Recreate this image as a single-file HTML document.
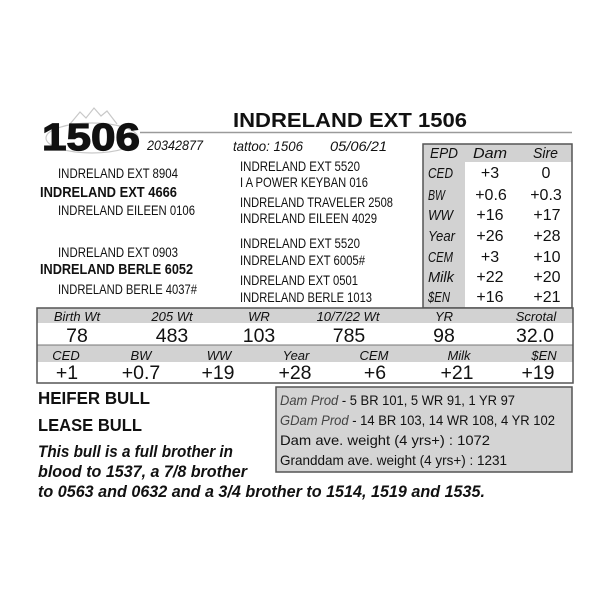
<!DOCTYPE html>
<html><head><meta charset="utf-8"><style>
html,body{margin:0;padding:0;background:#fff;}
svg{display:block;}
text{font-family:"Liberation Sans",sans-serif;fill:#111;}
</style></head><body>
<svg width="600" height="600" viewBox="0 0 600 600" xmlns="http://www.w3.org/2000/svg">
<rect width="600" height="600" fill="#fff"/>
<!-- logo -->
<g fill="none" stroke="#c8c8c8" stroke-width="1.2">
<polyline points="70,124 80,112 86,118 94,108 101,116 107,111 117,124"/>
<ellipse cx="92" cy="138" rx="46" ry="15"/>
</g>
<!-- header -->
<text x="42" y="150" font-size="38" font-weight="bold" stroke="#111" stroke-width="1.2" textLength="98" lengthAdjust="spacingAndGlyphs">1506</text>
<text x="147" y="150" font-size="14" font-style="italic" textLength="56" lengthAdjust="spacingAndGlyphs">20342877</text>
<text x="233" y="127" font-size="20" font-weight="bold" textLength="234" lengthAdjust="spacingAndGlyphs">INDRELAND EXT 1506</text>
<line x1="140" y1="132.5" x2="572" y2="132.5" stroke="#9a9a9a" stroke-width="1.5"/>
<text x="233" y="151" font-size="14" font-style="italic" textLength="70" lengthAdjust="spacingAndGlyphs">tattoo: 1506</text>
<text x="330" y="151" font-size="14" font-style="italic" textLength="57" lengthAdjust="spacingAndGlyphs">05/06/21</text>

<!-- pedigree left -->
<g font-size="14">
<text x="58" y="178" textLength="120" lengthAdjust="spacingAndGlyphs">INDRELAND EXT 8904</text>
<text x="40" y="197" font-weight="bold" font-size="15" textLength="137" lengthAdjust="spacingAndGlyphs">INDRELAND EXT 4666</text>
<text x="58" y="215" textLength="137" lengthAdjust="spacingAndGlyphs">INDRELAND EILEEN 0106</text>
<text x="58" y="257" textLength="120" lengthAdjust="spacingAndGlyphs">INDRELAND EXT 0903</text>
<text x="40" y="274" font-weight="bold" font-size="15" textLength="153" lengthAdjust="spacingAndGlyphs">INDRELAND BERLE 6052</text>
<text x="58" y="294" textLength="139" lengthAdjust="spacingAndGlyphs">INDRELAND BERLE 4037#</text>
<!-- pedigree right -->
<text x="240" y="171" textLength="120" lengthAdjust="spacingAndGlyphs">INDRELAND EXT 5520</text>
<text x="240" y="187" textLength="128" lengthAdjust="spacingAndGlyphs">I A POWER KEYBAN 016</text>
<text x="240" y="207" textLength="153" lengthAdjust="spacingAndGlyphs">INDRELAND TRAVELER 2508</text>
<text x="240" y="223" textLength="137" lengthAdjust="spacingAndGlyphs">INDRELAND EILEEN 4029</text>
<text x="240" y="248" textLength="120" lengthAdjust="spacingAndGlyphs">INDRELAND EXT 5520</text>
<text x="240" y="265" textLength="125" lengthAdjust="spacingAndGlyphs">INDRELAND EXT 6005#</text>
<text x="240" y="285" textLength="118" lengthAdjust="spacingAndGlyphs">INDRELAND EXT 0501</text>
<text x="240" y="302" textLength="132" lengthAdjust="spacingAndGlyphs">INDRELAND BERLE 1013</text>
</g>

<!-- EPD box -->
<rect x="423" y="144" width="149" height="164" fill="#fff"/>
<rect x="423" y="144" width="149" height="18" fill="#d2d2d2"/>
<rect x="423" y="162" width="42" height="146" fill="#d2d2d2"/>
<rect x="423" y="144" width="149" height="164" fill="none" stroke="#555" stroke-width="1.5"/>
<g font-size="15" font-style="italic" fill="#333">
<text x="430" y="158" textLength="28" lengthAdjust="spacingAndGlyphs">EPD</text>
<text x="473" y="158" textLength="34" lengthAdjust="spacingAndGlyphs">Dam</text>
<text x="533" y="158" textLength="25" lengthAdjust="spacingAndGlyphs">Sire</text>
<text x="428" y="178" fill="#444" textLength="25" lengthAdjust="spacingAndGlyphs">CED</text>
<text x="428" y="200" fill="#444" textLength="17" lengthAdjust="spacingAndGlyphs">BW</text>
<text x="428" y="220" fill="#444" textLength="25" lengthAdjust="spacingAndGlyphs">WW</text>
<text x="428" y="241" fill="#444" textLength="27" lengthAdjust="spacingAndGlyphs">Year</text>
<text x="428" y="262" fill="#444" textLength="25" lengthAdjust="spacingAndGlyphs">CEM</text>
<text x="428" y="282" fill="#444" textLength="26" lengthAdjust="spacingAndGlyphs">Milk</text>
<text x="428" y="302" fill="#444" textLength="22" lengthAdjust="spacingAndGlyphs">$EN</text>
</g>
<g font-size="16" text-anchor="middle">
<text x="490" y="178">+3</text><text x="546" y="178">0</text>
<text x="491" y="200">+0.6</text><text x="546" y="200">+0.3</text>
<text x="490" y="220">+16</text><text x="547" y="220">+17</text>
<text x="490" y="241">+26</text><text x="547" y="241">+28</text>
<text x="490" y="262">+3</text><text x="547" y="262">+10</text>
<text x="490" y="282">+22</text><text x="547" y="282">+20</text>
<text x="490" y="302">+16</text><text x="547" y="302">+21</text>
</g>

<!-- performance table -->
<rect x="37" y="308" width="536" height="15" fill="#d2d2d2"/>
<rect x="37" y="345" width="536" height="17" fill="#d2d2d2"/>
<line x1="37" y1="345" x2="573" y2="345" stroke="#777" stroke-width="1"/>
<rect x="37" y="308" width="536" height="75" fill="none" stroke="#555" stroke-width="1.5"/>
<g font-size="13" font-style="italic" fill="#333" text-anchor="middle">
<text x="77" y="321">Birth Wt</text>
<text x="172" y="321">205 Wt</text>
<text x="259" y="321">WR</text>
<text x="348" y="321">10/7/22 Wt</text>
<text x="444" y="321">YR</text>
<text x="536" y="321">Scrotal</text>
<text x="66" y="360">CED</text>
<text x="141" y="360">BW</text>
<text x="219" y="360">WW</text>
<text x="296" y="360">Year</text>
<text x="374" y="360">CEM</text>
<text x="459" y="360">Milk</text>
<text x="544" y="360">$EN</text>
</g>
<g font-size="19.5" text-anchor="middle">
<text x="77" y="342">78</text>
<text x="172" y="342">483</text>
<text x="259" y="342">103</text>
<text x="349" y="342">785</text>
<text x="444" y="342">98</text>
<text x="535" y="342">32.0</text>
<text x="67" y="379">+1</text>
<text x="141" y="379">+0.7</text>
<text x="218" y="379">+19</text>
<text x="295" y="379">+28</text>
<text x="375" y="379">+6</text>
<text x="457" y="379">+21</text>
<text x="538" y="379">+19</text>
</g>

<!-- bottom -->
<text x="38" y="404" font-size="17.5" font-weight="bold" textLength="112" lengthAdjust="spacingAndGlyphs">HEIFER BULL</text>
<text x="38" y="431" font-size="17.5" font-weight="bold" textLength="104" lengthAdjust="spacingAndGlyphs">LEASE BULL</text>
<g font-size="17" font-weight="bold" font-style="italic">
<text x="38" y="457" textLength="195" lengthAdjust="spacingAndGlyphs">This bull is a full brother in</text>
<text x="38" y="477" textLength="209" lengthAdjust="spacingAndGlyphs">blood to 1537, a 7/8 brother</text>
<text x="38" y="497" textLength="447" lengthAdjust="spacingAndGlyphs">to 0563 and 0632 and a 3/4 brother to 1514, 1519 and 1535.</text>
</g>

<rect x="276" y="387" width="296" height="85" fill="#d4d4d4" stroke="#555" stroke-width="1.5"/>
<g font-size="14">
<text x="280" y="405" textLength="235" lengthAdjust="spacingAndGlyphs"><tspan font-style="italic" fill="#444">Dam Prod</tspan> - 5 BR 101, 5 WR 91, 1 YR 97</text>
<text x="280" y="425" textLength="275" lengthAdjust="spacingAndGlyphs"><tspan font-style="italic" fill="#444">GDam Prod</tspan> - 14 BR 103, 14 WR 108, 4 YR 102</text>
<text x="280" y="445" textLength="210" lengthAdjust="spacingAndGlyphs">Dam ave. weight (4 yrs+) : 1072</text>
<text x="280" y="465" textLength="227" lengthAdjust="spacingAndGlyphs">Granddam ave. weight (4 yrs+) : 1231</text>
</g>
</svg>
</body></html>
